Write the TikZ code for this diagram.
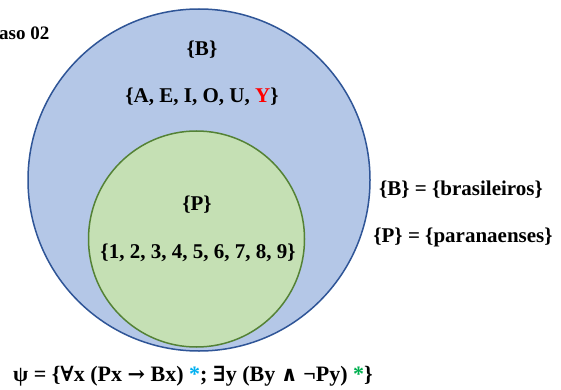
\documentclass[tikz,border=0pt]{standalone}
\usepackage{fontspec}
\setmainfont{Liberation Serif}
\newfontfamily\symfont{DejaVu Serif}[Scale=0.95]
\definecolor{bfill}{HTML}{B4C7E7}
\definecolor{bdraw}{HTML}{2F5597}
\definecolor{gfill}{HTML}{C5E0B4}
\definecolor{gdraw}{HTML}{548235}
\definecolor{ast1}{HTML}{00B0F0}
\definecolor{ast2}{HTML}{00B050}
\tikzset{
  lbl/.style={font=\fontsize{21}{25}\selectfont\bfseries, inner sep=0pt, text=black},
}
\begin{document}
\begin{tikzpicture}[x=1pt,y=-1pt]
\useasboundingbox (0,0) rectangle (561,390);
\fill[white] (0,0) rectangle (561,390);
\node[circle, draw=bdraw, fill=bfill, line width=1.5pt, minimum size=342pt, inner sep=0pt] (B) at (199,180) {};
\node[circle, draw=gdraw, fill=gfill, line width=1.5pt, minimum size=216pt, inner sep=0pt] (P) at (196.5,239) {};
\node[lbl] (bname) at (202,50) {\{B\}};
\node[lbl] (belems) at (202,97) {\{A, E, I, O, U, \textcolor{red}{Y}\}};
\node[lbl] (pname) at (197,205) {\{P\}};
\node[lbl] (pelems) at (198,253) {\{1, 2, 3, 4, 5, 6, 7, 8, 9\}};
\node[lbl] (bdef) at (461,190) {\{B\} = \{brasileiros\}};
\node[lbl] (pdef) at (463,237) {\{P\} = \{paranaenses\}};
\node[lbl, anchor=west, font=\fontsize{19}{23}\selectfont\bfseries] (caso) at (-1,33) {aso 02};
\node[lbl, font=\fontsize{22}{26}\selectfont\bfseries] (psi) at (193,376) {ψ = \{{\symfont ∀}x (Px {\symfont →} Bx) \textcolor{ast1}{*}; {\symfont ∃}y (By {\symfont ∧} ¬Py) \textcolor{ast2}{*}\}};
\end{tikzpicture}
\end{document}
